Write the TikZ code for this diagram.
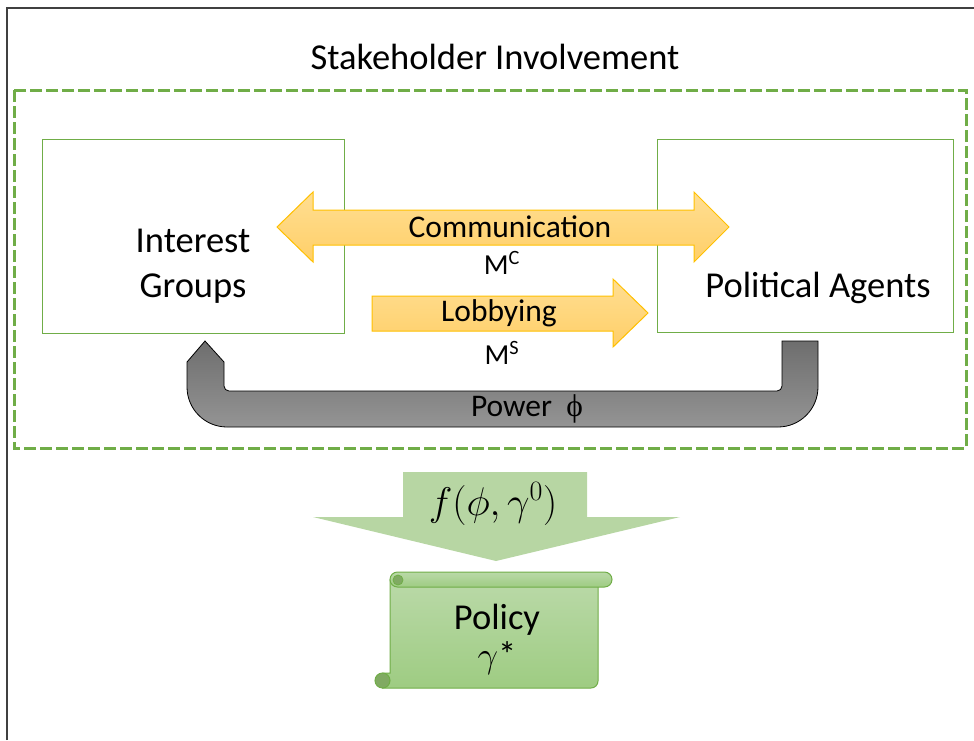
\RequirePackage{fix-cm}
\documentclass[tikz,border=0pt]{standalone}
\usepackage{fontspec}
\setmainfont{Carlito}
\newfontfamily\greekfont{Liberation Serif}
\usetikzlibrary{positioning}

\definecolor{framegray}{RGB}{64,64,64}
\definecolor{groupgreen}{RGB}{112,173,71}
\definecolor{flowline}{RGB}{255,192,0}
\definecolor{flowtop}{RGB}{255,222,146}
\definecolor{flowbottom}{RGB}{255,207,104}
\definecolor{powertop}{RGB}{110,110,110}
\definecolor{powerbottom}{RGB}{148,148,148}
\definecolor{policyarrow}{RGB}{183,214,163}
\definecolor{scrolltop}{RGB}{186,217,168}
\definecolor{scrollbottom}{RGB}{158,204,130}
\definecolor{scrollcurl}{RGB}{128,170,98}

\newcommand\boxfont{\fontsize{36.5}{45}\selectfont}
\newcommand\flowfont{\fontsize{31.5}{36}\selectfont}
\newcommand\subfont{\fontsize{29}{34}\selectfont}

\tikzset{
  agentbox/.style={draw=groupgreen,line width=1pt,inner sep=0pt},
  flowarrow/.style={draw=flowline,line width=1pt,top color=flowtop,bottom color=flowbottom},
  powerarrow/.style={draw=black,line width=0.8pt,top color=powertop,bottom color=powerbottom},
  scrollpart/.style={draw=groupgreen,line width=1pt,top color=scrolltop,bottom color=scrollbottom}
}

\begin{document}
\begin{tikzpicture}[x=1pt,y=-1pt]
  \useasboundingbox (0,0) rectangle (974,740) ;
  % page frame
  \draw[framegray,line width=1.5pt] (7,740) -- (7,8) -- (974,8) ;
  % stakeholder involvement
  \node[font=\boxfont] (title) at (495,57) {Stakeholder Involvement} ;
  \draw[groupgreen,line width=3pt,dash pattern=on 12pt off 4pt] (14,90) rectangle (966,448) ;
  \node[agentbox,minimum width=302pt,minimum height=194pt] (groups) at (193,236) {} ;
  \node[agentbox,minimum width=296pt,minimum height=193pt] (agents) at (805,235.5) {} ;
  \node[font=\boxfont,align=center] (groupstext) at (193,266) {Interest\\Groups} ;
  \node[font=\boxfont] (agentstext) at (818,288) {Political Agents} ;
  % communication, both ways
  \draw[flowarrow] (277,227) -- (313,192) -- (313,210) -- (694,210) -- (694,192) -- (729,227)
        -- (694,262) -- (694,245) -- (313,245) -- (313,262) -- cycle ;
  \node[font=\flowfont] (comm) at (510,227) {Communication} ;
  \node[font=\subfont] (mc) at (502,263) {M\textsuperscript{C}} ;
  % lobbying
  \draw[flowarrow] (372,296) -- (613,296) -- (613,279) -- (648,313) -- (613,347) -- (613,331)
        -- (372,331) -- cycle ;
  \node[font=\flowfont] (lobby) at (499,313) {Lobbying} ;
  \node[font=\subfont] (ms) at (502,353) {M\textsuperscript{S}} ;
  % power, back to the groups
  \draw[powerarrow] (205,341) -- (187,362) -- (187,387) arc[start angle=180,end angle=90,radius=40]
        -- (778,427) arc[start angle=90,end angle=0,radius=40] -- (818,341) -- (782,341)
        -- (782,386) arc[start angle=0,end angle=90,radius=5] -- (229,391)
        arc[start angle=90,end angle=180,radius=5] -- (224,362) -- cycle ;
  \node[font=\flowfont] (power) at (527,409) {Power\ \ {\greekfont ϕ}} ;
  % policy outcome
  \fill[policyarrow] (403,472) -- (587,472) -- (587,517) -- (680,517) -- (496,561) -- (313,517)
        -- (403,517) -- cycle ;
  \node[font=\fontsize{40}{46}\selectfont] (rule) at (493,504) {$f(\phi,\gamma^0)$} ;
  \draw[scrollpart] (390,580) -- (598,580) -- (598,681) arc[start angle=0,end angle=90,radius=7]
        -- (382.5,688) -- (382.5,673) -- (390,673) -- cycle ;
  \draw[scrollpart] (397.5,572) -- (604.5,572) arc[start angle=-90,end angle=90,radius=7.5]
        -- (397.5,587) arc[start angle=90,end angle=270,radius=7.5] -- cycle ;
  \draw[groupgreen,fill=scrollcurl,line width=1pt] (382.5,680.5) circle (7.5) ;
  \draw[groupgreen,fill=scrollcurl,line width=0.8pt] (398,580) circle (5) ;
  \node[font=\fontsize{36.5}{38}\selectfont,align=center] (policy) at (497,639) {Policy\\$\gamma$*} ;
\end{tikzpicture}
\end{document}
